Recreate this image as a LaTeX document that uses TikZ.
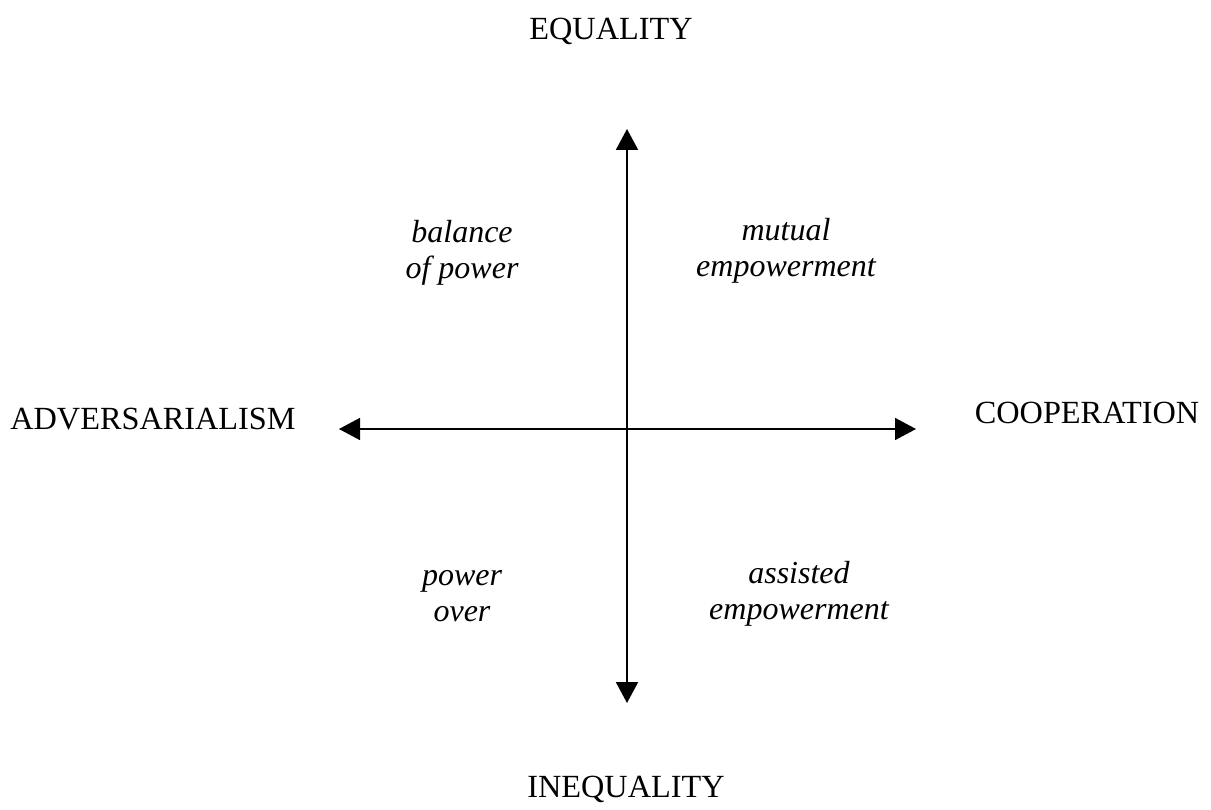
\documentclass[tikz,border=0pt]{standalone}
\usepackage{fontspec}
\setmainfont{Liberation Serif}
\usetikzlibrary{arrows.meta}
\begin{document}
\begin{tikzpicture}[x=1pt,y=-1pt,
  lbl/.style={anchor=base,inner sep=0pt,font={\fontsize{32.3}{36}\selectfont}},
  quad/.style={anchor=base,inner sep=0pt,align=center,font={\fontsize{32}{36}\selectfont\itshape}},
  axis/.style={line width=2pt,{Triangle[length=21pt,width=22pt]}-{Triangle[length=21pt,width=22pt]}}]
\useasboundingbox (0,0) rectangle (1211,810);
\coordinate (top) at (627,129);
\coordinate (bot) at (627,703);
\coordinate (lft) at (339,429);
\coordinate (rgt) at (916,429);
\draw[axis] (top) -- (bot);
\draw[axis,line width=1.6pt] (lft) -- (rgt);
\node[lbl] (eq) at (611,40) {EQUALITY};
\node[lbl] (ineq) at (626,797) {INEQUALITY};
\node[lbl] (adv) at (153,429) {ADVERSARIALISM};
\node[lbl] (coop) at (1087,424) {COOPERATION};
\node[quad] (bal) at (462,279) {balance\\of power};
\node[quad] (mut) at (786,277) {mutual\\empowerment};
\node[quad] (po) at (462,621) {power\\over};
\node[quad] (ass) at (799,619) {assisted\\empowerment};
\end{tikzpicture}
\end{document}
